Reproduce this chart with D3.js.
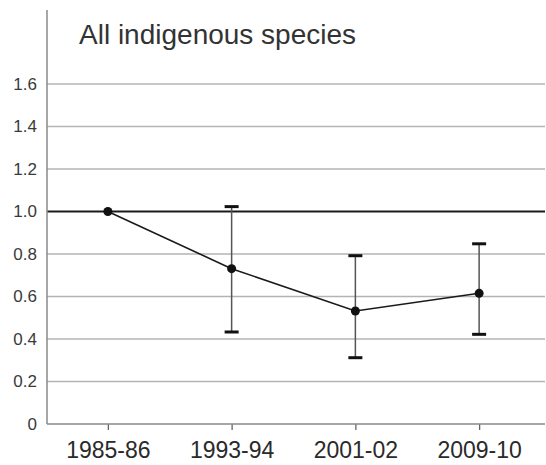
<!DOCTYPE html>
<html>
<head>
<meta charset="utf-8">
<script src="https://cdn.jsdelivr.net/npm/d3@7"></script>
<style>
  html, body { margin: 0; padding: 0; background: #fff; }
  svg { display: block; font-family: "Liberation Sans", Arial, sans-serif; }
</style>
</head>
<body>
<svg id="chart" width="546" height="465"></svg>
<script>
const categories = ["1985-86", "1993-94", "2001-02", "2009-10"];
const values = [1.0, 0.731, 0.532, 0.615];
const upper = [null, 1.023, 0.792, 0.848];
const lower = [null, 0.433, 0.312, 0.422];
const yTicks = [0, 0.2, 0.4, 0.6, 0.8, 1.0, 1.2, 1.4, 1.6];
const yTickLabels = ["0", "0.2", "0.4", "0.6", "0.8", "1.0", "1.2", "1.4", "1.6"];
const title = "All indigenous species";

const svg = d3.select("#chart");
const left = 47, right = 545;
const x = d3.scalePoint().domain(categories).range([46, 541]).padding(0.5);
const y = d3.scaleLinear().domain([0, 1.6]).range([424, 84]);

// gridlines
svg.append("g").selectAll("line").data(yTicks.filter(d => d > 0 && d !== 1.0)).join("line")
  .attr("x1", left).attr("x2", right)
  .attr("y1", d => y(d)).attr("y2", d => y(d))
  .attr("stroke", "#b4b4b4").attr("stroke-width", 1.3);

// reference line at 1.0
svg.append("line").attr("x1", left).attr("x2", right)
  .attr("y1", y(1)).attr("y2", y(1))
  .attr("stroke", "#1a1a1a").attr("stroke-width", 1.8);

// y axis
const yAxis = d3.axisLeft(y).tickValues(yTicks)
  .tickFormat((d, i) => yTickLabels[i]).tickSize(0).tickPadding(10);
const gy = svg.append("g").attr("transform", `translate(${left},0)`).call(yAxis);
gy.select(".domain").remove();
gy.selectAll("text").attr("font-size", 17).attr("fill", "#3a3a3a")
  .attr("font-family", "'Liberation Sans', Arial, sans-serif");
svg.append("line").attr("x1", left).attr("x2", left)
  .attr("y1", y(0)).attr("y2", 10)
  .attr("stroke", "#8a8a8a").attr("stroke-width", 1.5);

// x axis
const xAxis = d3.axisBottom(x).tickSize(6).tickPadding(12);
const gx = svg.append("g").attr("transform", `translate(0,${y(0)})`).call(xAxis);
gx.select(".domain").remove();
gx.selectAll(".tick line").attr("stroke", "#666").attr("stroke-width", 1.3);
gx.selectAll("text").attr("font-size", 23).attr("fill", "#2a2a2a")
  .attr("font-family", "'Liberation Sans', Arial, sans-serif");
svg.append("line").attr("x1", left).attr("x2", right)
  .attr("y1", y(0)).attr("y2", y(0))
  .attr("stroke", "#8a8a8a").attr("stroke-width", 1.5);

// data
const data = categories.map((c, i) => ({c, v: values[i], hi: upper[i], lo: lower[i]}));
const eb = data.filter(d => d.hi !== null);

svg.append("g").selectAll("line").data(eb).join("line")
  .attr("x1", d => x(d.c)).attr("x2", d => x(d.c))
  .attr("y1", d => y(d.hi)).attr("y2", d => y(d.lo))
  .attr("stroke", "#555").attr("stroke-width", 1.5);
const capW = 7;
["hi", "lo"].forEach(k => {
  svg.append("g").selectAll("line").data(eb).join("line")
    .attr("x1", d => x(d.c) - capW).attr("x2", d => x(d.c) + capW)
    .attr("y1", d => y(d[k])).attr("y2", d => y(d[k]))
    .attr("stroke", "#111").attr("stroke-width", 3);
});

svg.append("path").datum(data)
  .attr("d", d3.line().x(d => x(d.c)).y(d => y(d.v)))
  .attr("fill", "none").attr("stroke", "#1a1a1a").attr("stroke-width", 1.6);

svg.append("g").selectAll("circle").data(data).join("circle")
  .attr("cx", d => x(d.c)).attr("cy", d => y(d.v)).attr("r", 4.5)
  .attr("fill", "#111");

svg.append("text").attr("x", 79).attr("y", 44)
  .attr("font-size", 28).attr("fill", "#333").text(title);
</script>
</body>
</html>
